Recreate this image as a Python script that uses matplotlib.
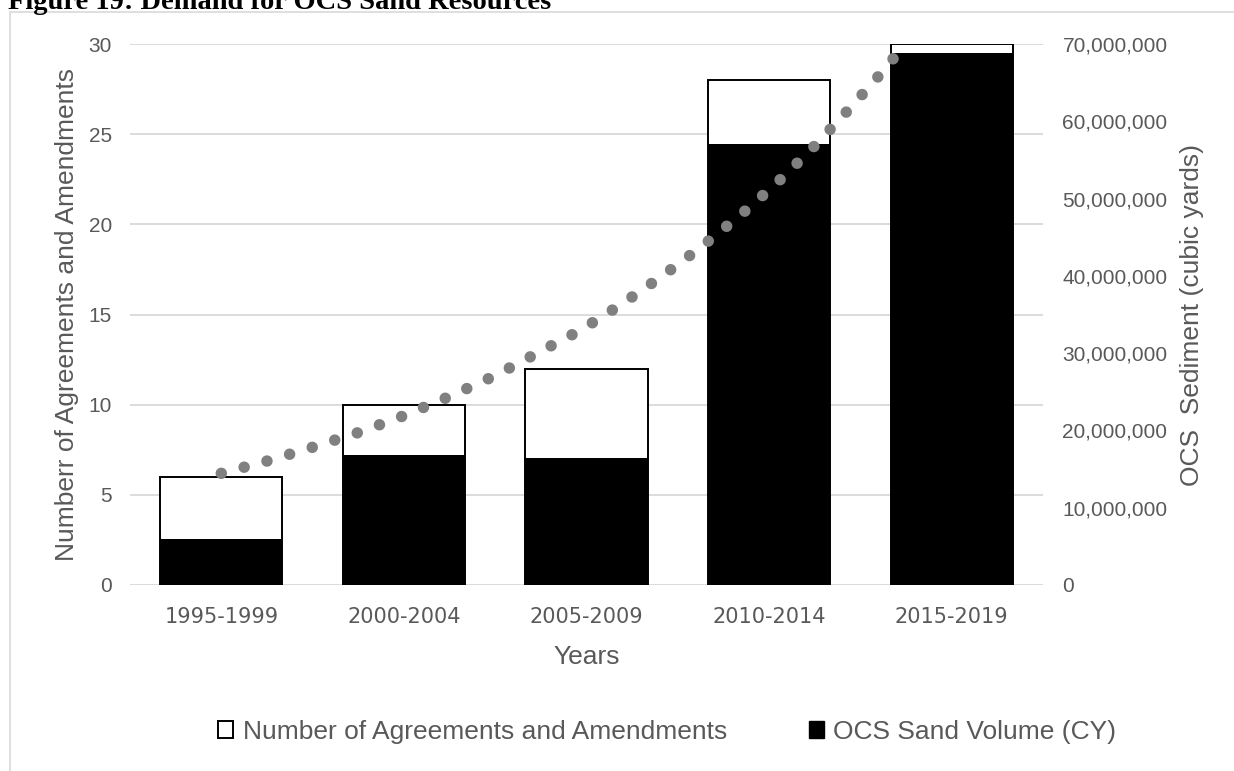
import matplotlib
matplotlib.use("Agg")
import matplotlib.pyplot as plt
from matplotlib.patches import Rectangle, Patch
from matplotlib.ticker import FuncFormatter, MultipleLocator

# ---- data ----
categories = ['1995-1999', '2000-2004', '2005-2009', '2010-2014', '2015-2019']
agreements = [6, 10, 12, 28, 30]
sand_volume = [5.9e6, 16.8e6, 16.4e6, 57.1e6, 68.8e6]
# dotted trend line (category position, cubic yards)
trend_x = [0.00, 0.26, 0.51, 0.76, 1.01, 1.26, 1.50, 1.73, 1.97, 2.19, 2.41,
           2.62, 2.83, 3.03, 3.22, 3.40, 3.58, 3.75]
trend_y = [14.45e6, 16.1e6, 17.9e6, 19.8e6, 22.0e6, 24.5e6, 27.1e6, 30.0e6,
           33.0e6, 36.3e6, 39.9e6, 43.6e6, 47.6e6, 51.75e6, 56.1e6, 60.6e6,
           65.3e6, 70.1e6]

W, H = 1234, 771
fig = plt.figure(figsize=(W / 100, H / 100), dpi=100)
fig.patch.set_facecolor('white')

grey = '#595959'
ax = fig.add_axes([130 / W, 1 - 585 / H, (1043 - 130) / W, (585 - 44) / H])
ax2 = ax.twinx()

x = list(range(len(categories)))
ax.bar(x, agreements, width=0.67, color='white', edgecolor='black', linewidth=1.4, zorder=2)
ax2.bar(x, sand_volume, width=0.67, color='black', zorder=2)
ax2.plot(trend_x, trend_y, color='#808080', linewidth=8.3, linestyle=(0, (0.001, 2.05)),
         dash_capstyle='round', zorder=3)

ax.set_xlim(-0.5, 4.5)
ax.set_ylim(0, 30)
ax2.set_ylim(0, 70e6)
ax.yaxis.set_major_locator(MultipleLocator(5))
ax2.yaxis.set_major_locator(MultipleLocator(10e6))
ax2.yaxis.set_major_formatter(FuncFormatter(lambda v, p: f"{int(round(v)):,}"))

ax.set_axisbelow(True)
ax.yaxis.grid(True, color='#d9d9d9', linewidth=1.3)
for a in (ax, ax2):
    for s in a.spines.values():
        s.set_visible(False)
    a.tick_params(length=0)
ax2.patch.set_visible(False)

ax.set_xticks(x)
ax.set_xticklabels(categories, fontfamily='DejaVu Sans', fontsize=15, color=grey)
ax.tick_params(axis='x', pad=16)
ax.tick_params(axis='y', pad=13, labelsize=15, labelcolor=grey)
ax2.tick_params(axis='y', pad=14, labelsize=15, labelcolor=grey)
for lab in ax.get_yticklabels() + ax2.get_yticklabels():
    lab.set_fontfamily('Liberation Sans')

ax.set_ylabel('Numberr of Agreements and Amendments', fontfamily='Liberation Sans',
              fontsize=19, color=grey)
ax.yaxis.set_label_coords(-0.056, 0.5)
ax2.set_ylabel('OCS  Sediment (cubic yards)', fontfamily='Liberation Sans',
               fontsize=19, color=grey, rotation=90)
ax2.yaxis.set_label_coords(1.150, 0.5)
ax.set_xlabel('Years', fontfamily='Liberation Sans', fontsize=19, color=grey)
ax.xaxis.set_label_coords(0.5, -0.111)

handles = [Patch(facecolor='white', edgecolor='black', linewidth=1.4),
           Patch(facecolor='black', edgecolor='black')]
leg = fig.legend(handles, ['Number of Agreements and Amendments', 'OCS Sand Volume (CY)'],
                 loc='center left', bbox_to_anchor=(218 / W, 1 - 732 / H), ncol=2,
                 frameon=False, borderpad=0, borderaxespad=0,
                 prop={'family': 'Liberation Sans', 'size': 19},
                 handlelength=0.58, handleheight=0.58, handletextpad=0.35,
                 columnspacing=3.1, labelcolor=grey)

# outer chart frame
fig.patches.append(Rectangle((10 / W, -0.05), 1.2, 1 - 12 / H + 0.05, transform=fig.transFigure,
                             fill=False, edgecolor='#d9d9d9', linewidth=1.2))

fig.text(8 / W, 1 - 9 / H, 'Figure 19: Demand for OCS Sand Resources',
         fontfamily='Liberation Serif', fontweight='bold', fontsize=20.5,
         va='baseline', ha='left', color='black')

fig.savefig('out.png', dpi=100)
